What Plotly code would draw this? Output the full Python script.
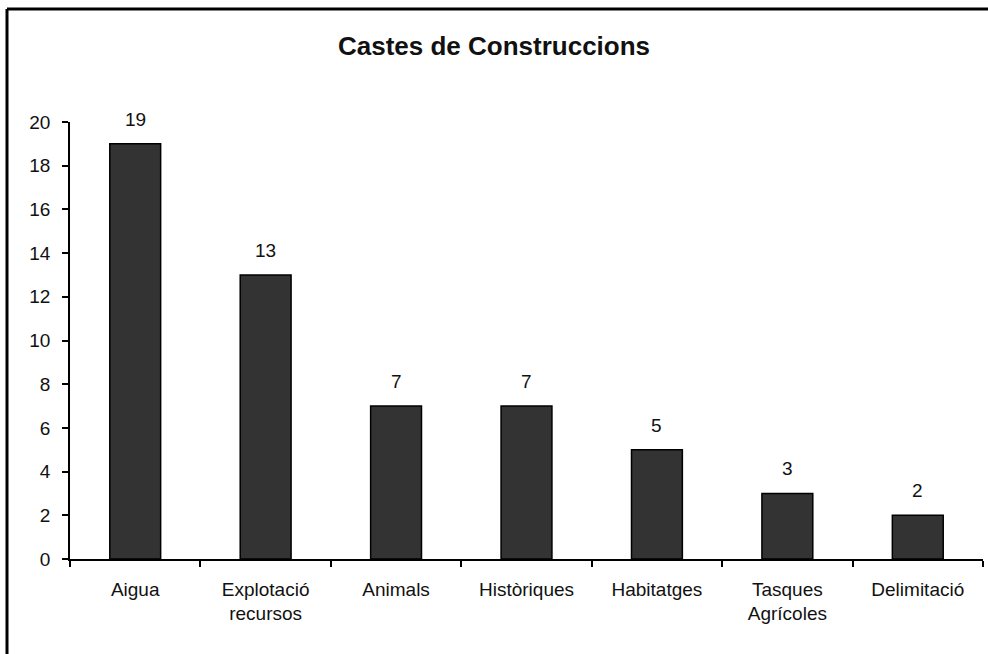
import plotly.graph_objects as go

categories = ["Aigua", "Explotació<br>recursos", "Animals", "Històriques",
              "Habitatges", "Tasques<br>Agrícoles", "Delimitació"]
counts = [19, 13, 7, 7, 5, 3, 2]
y_ticks = list(range(0, 21, 2))

FONT = "Arial, Liberation Sans, sans-serif"

fig = go.Figure(
    go.Bar(
        x=categories,
        y=counts,
        width=0.39,
        marker=dict(color="#333333", line=dict(color="#000000", width=1.5)),
        hoverinfo="skip",
    )
)

# value labels above each bar
for cat, v in zip(categories, counts):
    fig.add_annotation(
        x=cat, y=v, text=str(v), showarrow=False,
        yanchor="bottom", yshift=12,
        font=dict(family=FONT, size=19, color="#111111"),
    )

# frame around the picture (top and left edges only, as in the source scan)
fig.add_shape(type="line", xref="paper", yref="paper",
              x0=-0.069, x1=1.01, y0=1.2586, y1=1.2586,
              line=dict(color="#000000", width=3))
fig.add_shape(type="line", xref="paper", yref="paper",
              x0=-0.069, x1=-0.069, y0=1.2586, y1=-0.22,
              line=dict(color="#000000", width=3))

fig.update_layout(
    width=988,
    height=654,
    margin=dict(l=70, r=5, t=122, b=95),
    paper_bgcolor="white",
    plot_bgcolor="white",
    showlegend=False,
    title=dict(
        text="<b>Castes de Construccions</b>",
        x=0.5, xanchor="center", y=1 - 46 / 654, yanchor="middle",
        font=dict(family=FONT, size=26, color="#111111"),
    ),
    font=dict(family=FONT, size=19, color="#111111"),
)
fig.update_xaxes(
    type="category",
    tickson="boundaries",
    showline=True, linecolor="#000000", linewidth=1.5,
    ticks="outside", ticklen=6, tickcolor="#000000", tickwidth=1.5,
    showgrid=False, zeroline=False,
    ticklabelstandoff=12,
)
fig.update_yaxes(
    range=[0, 20],
    tickmode="array", tickvals=y_ticks,
    showline=True, linecolor="#000000", linewidth=1.5,
    ticks="outside", ticklen=6, tickcolor="#000000", tickwidth=1.5,
    showgrid=False, zeroline=False,
    ticklabelstandoff=8,
)

fig.write_html(
    "out.html",
    config={"displayModeBar": False},
    post_script="document.body.style.margin='0';",
)
